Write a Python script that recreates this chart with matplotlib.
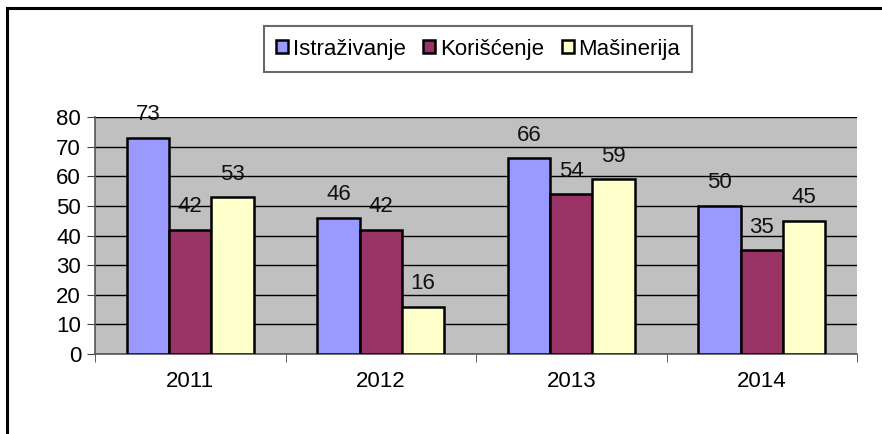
import numpy as np
import matplotlib
matplotlib.use('Agg')
import matplotlib.pyplot as plt
from matplotlib.patches import Rectangle

plt.rcParams['font.family'] = ['Liberation Sans', 'DejaVu Sans']

# data
years = ['2011', '2012', '2013', '2014']
series_names = ['Istraživanje', 'Korišćenje', 'Mašinerija']
istrazivanje = [73, 46, 66, 50]
koriscenje = [42, 42, 54, 35]
masinerija = [53, 16, 59, 45]
colors = ['#9999FF', '#993366', '#FFFFCC']

fig = plt.figure(figsize=(8.82, 4.34), dpi=100)
ax = fig.add_axes([95 / 882, 80 / 434, 762 / 882, 237 / 434])

# outer chart border (runs off the right and bottom edge)
fig.patches.append(Rectangle((7 / 882, -0.05), 1.1, (434 - 8) / 434 + 0.05,
                             transform=fig.transFigure, fill=False,
                             edgecolor='black', linewidth=2.2, clip_on=False))

x = np.arange(len(years))
w = 1 / 4.5
ax.set_facecolor('#C0C0C0')
for i, (vals, c) in enumerate(zip([istrazivanje, koriscenje, masinerija], colors)):
    pos = x + (i - 1) * w
    ax.bar(pos, vals, width=w, color=c, edgecolor='black', linewidth=1.8,
           label=series_names[i], zorder=3)
    for p, v in zip(pos, vals):
        ax.text(p, v + 4.2, str(v), ha='center', va='bottom', fontsize=16,
                color='#111111', zorder=4, clip_on=False)

ax.set_xlim(-0.5, len(years) - 0.5)
ax.set_ylim(0, 80)
ax.set_yticks(range(0, 81, 10))
ax.yaxis.grid(True, color='black', linewidth=1)
ax.set_axisbelow(True)

ax.set_xticks(x)
ax.set_xticklabels(years, fontsize=16)
ax.set_xticks(np.arange(-0.5, len(years)), minor=True)
ax.tick_params(axis='x', which='major', length=0, pad=12)
ax.tick_params(axis='x', which='minor', length=6, color='#444444')
ax.tick_params(axis='y', labelsize=16, length=6, color='#444444', pad=4)

for s in ['top', 'right']:
    ax.spines[s].set_visible(False)
ax.spines['left'].set_color('#555555')
ax.spines['bottom'].set_color('#555555')
ax.spines['left'].set_linewidth(1.2)
ax.spines['bottom'].set_linewidth(1.2)

leg = fig.legend(loc='center', bbox_to_anchor=(478 / 882, (434 - 49) / 434),
                 ncol=3, fontsize=16, frameon=True, fancybox=False,
                 handlelength=0.55, handleheight=0.55, handletextpad=0.2,
                 columnspacing=0.8, borderpad=0.55)
leg.get_frame().set_edgecolor('#444444')
leg.get_frame().set_linewidth(1.5)

plt.savefig('out.png', dpi=100)
